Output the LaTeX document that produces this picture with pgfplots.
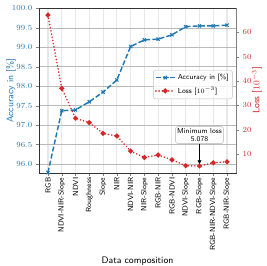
\documentclass[border=0pt]{standalone}
\usepackage{pgfplots}
\pgfplotsset{compat=1.18}
\usetikzlibrary{arrows.meta}
\definecolor{tabblue}{HTML}{1F77B4}
\definecolor{tabred}{HTML}{D62728}
\begin{document}
\begin{tikzpicture}[font=\sffamily]
\useasboundingbox (-35.1pt,-83.7pt) rectangle (204.3pt,155.7pt);
\begin{axis}[
  scale only axis, width=177.3pt, height=148.5pt,
  at={(0pt,0pt)}, anchor=south west,
  xmin=-0.65, xmax=13.65, ymin=95.77, ymax=100.01,
  xtick={0,...,13},
  xticklabels={RGB,NDVI-NIR-Slope,NDVI,Roughness,Slope,NIR,NDVI-NIR,NIR-Slope,RGB-NIR,RGB-NDVI,NDVI-Slope,RGB-Slope,RGB-NIR-NDVI-Slope,RGB-NIR-Slope},
  xticklabel style={rotate=90, anchor=east, font=\sffamily\fontsize{6.7}{7.5}\selectfont, inner sep=1.5pt},
  ytick={96,96.5,...,100},
  yticklabel style={/pgf/number format/.cd, fixed, fixed zerofill, precision=1, /tikz/.cd, font=\scriptsize, text=tabblue},
  xtick pos=bottom, ytick pos=left,
  tick align=outside, major tick length=2.5pt,
  grid=major,
  x grid style={line width=1pt, gray!18},
  y grid style={line width=0.5pt, gray!55},
  axis line style={black!80},
  xlabel={Data composition},
  xlabel style={font=\sffamily\fontsize{8.5}{10}\selectfont, at={(axis description cs:0.5,-0.535)}, anchor=center},
  ylabel={Accuracy in [\%]},
  ylabel style={font=\sffamily\fontsize{8.5}{10}\selectfont, text=tabblue, at={(axis description cs:-0.142,0.5)}, anchor=center},
]
\addplot[tabblue, line width=1.3pt, dash pattern=on 4.5pt off 2pt, mark=x, mark size=2pt, mark options={solid, line width=1pt}]
coordinates {
(0,95.78) (1,97.37) (2,97.39) (3,97.60) (4,97.85) (5,98.16) (6,99.02)
(7,99.19) (8,99.21) (9,99.32) (10,99.53) (11,99.55) (12,99.55) (13,99.57)
};
\end{axis}
\begin{axis}[
  scale only axis, width=177.3pt, height=148.5pt,
  at={(0pt,0pt)}, anchor=south west,
  xmin=-0.65, xmax=13.65, ymin=2.2, ymax=70,
  axis x line=none, axis y line*=right,
  axis line style={gray},
  ytick={10,20,...,60},
  yticklabel style={font=\scriptsize, text=tabred},
  tick align=outside, major tick length=2.5pt,
  ylabel={Loss [$10^{-3}$]},
  ylabel style={font=\sffamily\fontsize{8.5}{10}\selectfont, text=tabred, at={(axis description cs:1.106,0.5)}, anchor=center},
  legend cell align=left,
  legend style={at={(0.983,0.624)}, anchor=north east, font=\sffamily\fontsize{6.5}{8}\selectfont,
    draw=gray!50, rounded corners=2pt, fill=white, fill opacity=0.8, text opacity=1,
    row sep=1pt, inner sep=1.5pt},
]
\addlegendimage{tabblue, line width=1.3pt, dash pattern=on 4.5pt off 2pt, mark=x, mark size=2pt, mark options={solid, line width=1pt}}
\addlegendentry{Accuracy in [\%]}
\addplot[tabred, line width=1.5pt, dash pattern=on 0.1pt off 2.8pt, line cap=round, mark=*, mark size=1.4pt, mark options={solid}]
coordinates {
(0,67.1) (1,37.0) (2,24.7) (3,22.9) (4,18.5) (5,17.4) (6,11.2)
(7,8.6) (8,9.6) (9,7.6) (10,5.2) (11,5.078) (12,6.4) (13,6.8)
};
\addlegendentry{Loss [$10^{-3}$]}
\node[draw=gray!60, rounded corners=2pt, fill=white, font=\sffamily\fontsize{6.5}{7.5}\selectfont, align=center, inner sep=1.5pt] (ann) at (axis cs:11,17.8) {Minimum loss\\5.078};
\draw[-{Latex[length=4pt,width=4pt]}, line width=1.2pt, black] (ann.south) -- (axis cs:11,5.6);
\end{axis}
\end{tikzpicture}
\end{document}
